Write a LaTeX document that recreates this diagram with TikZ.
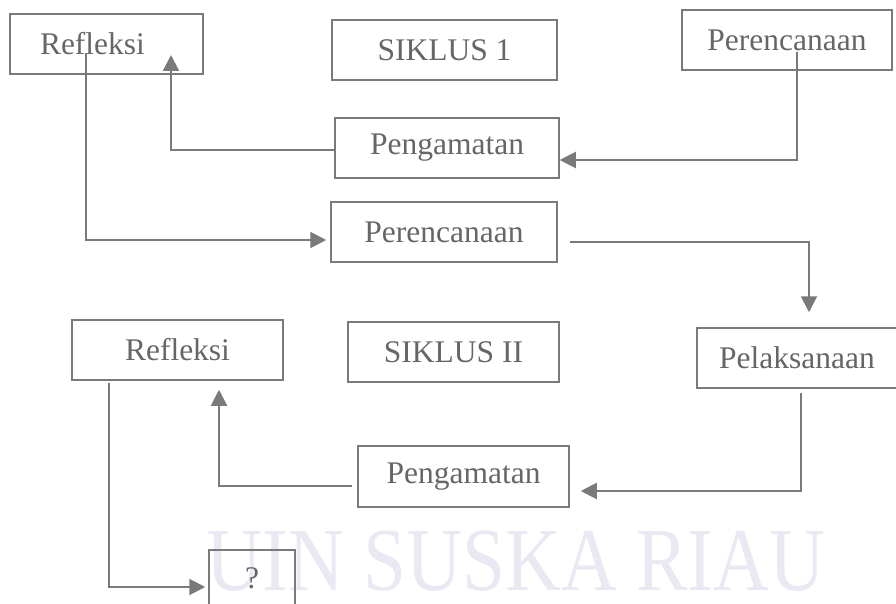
\documentclass[tikz,border=0pt]{standalone}
\usepackage{fontspec}
\setmainfont{Liberation Serif}
\usetikzlibrary{arrows.meta,calc}
\definecolor{boxgray}{HTML}{7A7A7A}
\definecolor{txtgray}{HTML}{666666}
\definecolor{wmcol}{HTML}{E9E9F3}

\begin{document}
\begin{tikzpicture}[x=1pt,y=-1pt,
kotak/.style={draw=boxgray,line width=1.5pt,text=txtgray,minimum height=60pt,inner sep=0pt,font=\fontsize{31.5}{36}\selectfont},
panah/.style={draw=boxgray,line width=2pt,-{Triangle[length=16pt,width=16pt]}}]

\useasboundingbox (0,0) rectangle (896,604);
\node[text=wmcol,font=\fontsize{90}{90}\selectfont,xscale=0.86,inner sep=0pt] (wm) at (516,561) {UIN SUSKA RIAU};

% siklus 1
\node[kotak,minimum width=193pt,align=left,text width=133pt,inner xsep=30pt] (ref1) at (106.5,44) {Refleksi};
\node[kotak,minimum width=225pt] (sik1) at (444.5,50) {SIKLUS 1};
\node[kotak,minimum width=210pt] (per1) at (787,40) {Perencanaan};
\node[kotak,minimum width=224pt] (pen1) at (447,148) {Pengamatan};
\node[kotak,minimum width=226pt] (per2) at (444,232) {Perencanaan};

% siklus 2
\node[kotak,minimum width=211pt] (ref2) at (177.5,350) {Refleksi};
\node[kotak,minimum width=211pt] (sik2) at (453.5,352) {SIKLUS II};
\node[kotak,minimum width=200pt] (pel) at (797,358) {Pelaksanaan};
\node[kotak,minimum width=211pt,minimum height=61pt] (pen2) at (463.5,476.5) {Pengamatan};
\node[kotak,minimum width=86pt,minimum height=56pt] (tanya) at (252,578) {?};

\coordinate (a1) at ($(per1.center)+(10,12)$);
\coordinate (b1) at ($(per1.center)+(10,120)$);
\coordinate (c2) at ($(ref1.center)+(64.5,11)$);
\coordinate (a3) at ($(ref1.center)+(-20.5,9)$);

\draw[panah] (a1) -- (b1) -- (b1 -| pen1.east);
\draw[panah] ($(pen1.west)+(0,2)$) -| (c2);
\draw[panah] (a3) |- ($(per2.west)+(-4,8)$);
\draw[panah] ($(per2.east)+(12,10)$) -| ($(pel.north)+(12,-15)$);
\draw[panah] ($(pel.south)+(4,4)$) |- ($(pen2.east)+(11,14.5)$);
\draw[panah] ($(pen2.west)+(-5,9.5)$) -| ($(ref2.south)+(41.5,9)$);
\draw[panah] ($(ref2.south)+(-68.5,2)$) |- ($(tanya.west)+(-3,9)$);
\end{tikzpicture}
\end{document}
